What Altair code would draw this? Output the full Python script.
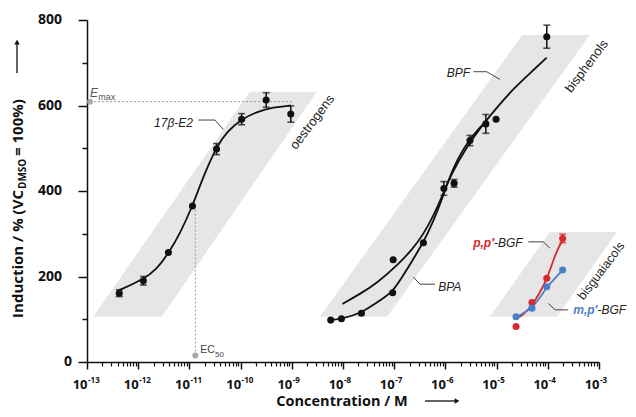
import altair as alt
import pandas as pd

# ---------------- data (x = log10 of concentration / M) ----------------
E2_LOGC = [-12.37, -11.90, -11.41, -10.94, -10.47, -9.98, -9.50, -9.02]
E2_VAL = [161, 190, 256, 365, 498, 568, 613, 580]
E2_ERR = [8, 10, 0, 0, 13, 13, 17, 19]

BPA_LOGC = [-8.24, -8.03, -7.64, -7.03, -6.43, -5.83, -5.21]
BPA_VAL = [98, 101, 114, 162, 279, 418, 557]
BPA_ERR = [0, 0, 0, 0, 0, 9, 22]

BPF_LOGC = [-7.02, -6.03, -5.52, -5.01, -4.02]
BPF_VAL = [239, 406, 518, 568, 761]
BPF_ERR = [0, 16, 12, 0, 27]

BGF_LOGC = [-4.62, -4.31, -4.02, -3.71]
PPBGF_VAL = [83, 139, 196, 289]
PPBGF_ERR = [0, 0, 0, 10]
MPBGF_VAL = [106, 126, 176, 215]
MPBGF_ERR = [0, 0, 0, 0]

# fitted curves
E2_FIT_LOGC = [-12.37, -11.90, -11.64, -11.41, -11.18, -10.94, -10.79, -10.63, -10.47, -10.27, -9.98, -9.69, -9.36, -9.02]
E2_FIT_VAL = [168, 193, 217, 254, 301, 365, 414, 461, 502, 539, 568, 585, 596, 600]
BPA_FIT_LOGC = [-8.24, -8.03, -7.64, -7.28, -7.03, -6.76, -6.43, -6.24, -6.07, -5.94, -5.78, -5.52, -5.19]
BPA_FIT_VAL = [98, 101, 114, 145, 162, 215, 279, 328, 379, 426, 472, 524, 566]
BPF_FIT_LOGC = [-8.01, -7.67, -7.34, -6.89, -6.63, -6.43, -6.24, -6.04, -5.88, -5.58, -5.32, -5.06, -4.67, -4.28, -4.02]
BPF_FIT_VAL = [136, 159, 184, 232, 266, 299, 340, 395, 441, 504, 547, 586, 640, 683, 712]
PPBGF_FIT_LOGC = [-4.62, -4.48, -4.30, -4.15, -4.02, -3.89, -3.80, -3.71]
PPBGF_FIT_VAL = [101, 110, 133, 164, 193, 239, 266, 285]
MPBGF_FIT_LOGC = [-4.62, -4.48, -4.31, -4.15, -4.02, -3.86, -3.71]
MPBGF_FIT_VAL = [104, 114, 126, 151, 175, 196, 215]

SERIES = ["17β-E2", "BPA", "BPF", "p,p′-BGF", "m,p′-BGF"]
SERIES_COLORS = ["#111111", "#111111", "#111111", "#d62a2e", "#4a80c8"]

# substance-class bands (parallelograms)
BAND_NAMES = ["oestrogens", "bisphenols", "bisguaiacols"]
BAND_BOTTOM = [106, 106, 106]
BAND_TOP = [632, 765, 304]
BAND_BOTTOM_LO = [-12.88, -8.45, -5.13]
BAND_BOTTOM_HI = [-11.54, -7.14, -3.82]
BAND_TOP_LO = [-9.82, -4.50, -3.96]
BAND_TOP_HI = [-8.51, -3.18, -2.65]
BAND_LABEL_X = [-8.60, -3.24, -2.96]
BAND_LABEL_Y = [561, 692, 213]
BAND_LABEL_SIZE = [13, 13, 12.5]

# Emax / EC50 annotations
EMAX_LOGC, EMAX_VAL, EMAX_LINE_END = -12.94, 609, -8.98
EC50_LOGC, EC50_VAL, EC50_LINE_TOP = -10.885, 15, 363

X_TICKS = [-13, -12, -11, -10, -9, -8, -7, -6, -5, -4, -3]
X_TICK_EXP = ["-13", "-12", "-11", "-10", "-9", "-8", "-7", "-6", "-5", "-4", "-3"]
X_MINOR = [d + m for d in range(-13, -3) for m in (0.30103, 0.47712, 0.60206, 0.69897, 0.77815, 0.84510, 0.90309, 0.95424)]
Y_TICKS = [0, 200, 400, 600, 800]
Y_MINOR = [100, 300, 500, 700]

# ---------------- tables ----------------
def series_df(name, xs, ys, errs=None):
    d = pd.DataFrame({"s": name, "x": xs, "y": ys})
    if errs is not None:
        d["e"] = errs
    return d

pts = pd.concat([
    series_df(SERIES[0], E2_LOGC, E2_VAL, E2_ERR),
    series_df(SERIES[1], BPA_LOGC, BPA_VAL, BPA_ERR),
    series_df(SERIES[2], BPF_LOGC, BPF_VAL, BPF_ERR),
    series_df(SERIES[3], BGF_LOGC, PPBGF_VAL, PPBGF_ERR),
    series_df(SERIES[4], BGF_LOGC, MPBGF_VAL, MPBGF_ERR),
], ignore_index=True)
errs = pts[pts["e"] > 0].copy()
errs["lo"] = errs["y"] - errs["e"]
errs["hi"] = errs["y"] + errs["e"]

fits = pd.concat([
    series_df(SERIES[0], E2_FIT_LOGC, E2_FIT_VAL),
    series_df(SERIES[1], BPA_FIT_LOGC, BPA_FIT_VAL),
    series_df(SERIES[2], BPF_FIT_LOGC, BPF_FIT_VAL),
    series_df(SERIES[3], PPBGF_FIT_LOGC, PPBGF_FIT_VAL),
    series_df(SERIES[4], MPBGF_FIT_LOGC, MPBGF_FIT_VAL),
], ignore_index=True)

band_rows = []
for i, g in enumerate(BAND_NAMES):
    band_rows.append({"g": g, "y": BAND_BOTTOM[i], "lo": BAND_BOTTOM_LO[i], "hi": BAND_BOTTOM_HI[i]})
    band_rows.append({"g": g, "y": BAND_TOP[i], "lo": BAND_TOP_LO[i], "hi": BAND_TOP_HI[i]})
bands_df = pd.DataFrame(band_rows)

LEADERS = {
    "e2": [(-10.826, 566), (-10.50, 566), (-10.338, 544)],
    "bpf": [(-5.455, 679), (-5.193, 679), (-4.934, 661)],
    "bpa": [(-6.627, 199), (-6.496, 182), (-6.203, 182)],
    "pp": [(-4.381, 281), (-4.088, 281), (-3.957, 266)],
    "mp": [(-3.99, 137), (-3.859, 122), (-3.60, 122)],
}
lead_df = pd.DataFrame([{"id": k, "k": j, "x": p[0], "y": p[1]} for k, v in LEADERS.items() for j, p in enumerate(v)])

# y-title arrow: spans this range of the y scale (axis units)
Y_ARROW_FROM, Y_ARROW_TO = 676, 748

XS = alt.Scale(domain=[-13, -3], nice=False, zero=False)
YS = alt.Scale(domain=[0, 800], nice=False, zero=False)
CS = alt.Scale(domain=SERIES, range=SERIES_COLORS)


def X(f):
    return alt.X(f, type="quantitative", scale=XS, axis=None)


def Y(f):
    return alt.Y(f, type="quantitative", scale=YS, axis=None)


one = pd.DataFrame({"a": [0]})
AX_FONT = "Open Sans"
LB_FONT = "Liberation Sans"

layers = []
# bands
layers.append(alt.Chart(bands_df).mark_area(orient="horizontal", color="#e6e6e6").encode(
    y=Y("y"), x=X("lo"), x2=alt.X2("hi"), detail="g:N"))
# Emax / EC50 dotted guides
layers.append(alt.Chart(pd.DataFrame({"x0": [EMAX_LOGC], "x1": [EMAX_LINE_END], "y": [EMAX_VAL]}))
              .mark_rule(color="#9a9a9a", strokeDash=[2, 2], strokeWidth=1)
              .encode(x=X("x0"), x2=alt.X2("x1"), y=Y("y")))
layers.append(alt.Chart(pd.DataFrame({"x": [EC50_LOGC], "y0": [EC50_VAL], "y1": [EC50_LINE_TOP]}))
              .mark_rule(color="#9a9a9a", strokeDash=[2, 2], strokeWidth=1)
              .encode(x=X("x"), y=Y("y0"), y2=alt.Y2("y1")))
layers.append(alt.Chart(pd.DataFrame({"x": [EMAX_LOGC, EC50_LOGC], "y": [EMAX_VAL, EC50_VAL]}))
              .mark_circle(color="#aaaaaa", size=36, opacity=1)
              .encode(x=X("x"), y=Y("y")))
# leader lines
layers.append(alt.Chart(lead_df).mark_line(color="#444444", strokeWidth=1).encode(
    x=X("x"), y=Y("y"), detail="id:N", order="k:Q"))
# fitted curves
layers.append(alt.Chart(fits).mark_line(interpolate="basis", strokeWidth=1.8).encode(
    x=X("x"), y=Y("y"), color=alt.Color("s:N", scale=CS, legend=None), detail="s:N"))
# error bars
layers.append(alt.Chart(errs).mark_rule(strokeWidth=1.5).encode(
    x=X("x"), y=Y("lo"), y2=alt.Y2("hi"), color=alt.Color("s:N", scale=CS, legend=None)))
for col in ("lo", "hi"):
    layers.append(alt.Chart(errs).mark_tick(orient="horizontal", size=7, thickness=1.6).encode(
        x=X("x"), y=Y(col), color=alt.Color("s:N", scale=CS, legend=None)))
# points
layers.append(alt.Chart(pts).mark_circle(size=50, opacity=1).encode(
    x=X("x"), y=Y("y"), color=alt.Color("s:N", scale=CS, legend=None)))

# in-plot labels
def tlayer(df, **kw):
    return alt.Chart(df).mark_text(**kw).encode(x=X("x"), y=Y("y"), text="t:N")

layers.append(tlayer(pd.DataFrame({"t": ["17β-E2", "BPF"], "x": [-10.93, -5.52], "y": [560, 675]}),
                     font=LB_FONT, fontSize=12, fontStyle="italic", color="#222", align="right", baseline="middle"))
layers.append(tlayer(pd.DataFrame({"t": ["BPA", "-BGF", "-BGF"], "x": [-6.14, -5.05, -3.03], "y": [176, 278, 122]}),
                     font=LB_FONT, fontSize=12, fontStyle="italic", color="#222", align="left", baseline="middle"))
layers.append(tlayer(pd.DataFrame({"t": ["p,p′"], "x": [-5.05], "y": [278]}),
                     font=LB_FONT, fontSize=12, fontStyle="italic", fontWeight="bold", color=SERIES_COLORS[3],
                     align="right", baseline="middle"))
layers.append(tlayer(pd.DataFrame({"t": ["m,p′"], "x": [-3.03], "y": [122]}),
                     font=LB_FONT, fontSize=12, fontStyle="italic", fontWeight="bold", color=SERIES_COLORS[4],
                     align="right", baseline="middle"))
for i in range(len(BAND_NAMES)):
    layers.append(tlayer(pd.DataFrame({"t": [BAND_NAMES[i]], "x": [BAND_LABEL_X[i]], "y": [BAND_LABEL_Y[i]]}),
                         font=LB_FONT, fontSize=BAND_LABEL_SIZE[i], color="#222", angle=307,
                         align="center", baseline="middle"))
layers.append(tlayer(pd.DataFrame({"t": ["E"], "x": [-12.94], "y": [620]}),
                     font=LB_FONT, fontSize=12, fontStyle="italic", color="#555", align="left", baseline="alphabetic"))
layers.append(tlayer(pd.DataFrame({"t": ["max"], "x": [-12.78], "y": [614]}),
                     font=LB_FONT, fontSize=9, color="#555", align="left", baseline="alphabetic"))
layers.append(tlayer(pd.DataFrame({"t": ["EC"], "x": [-10.79], "y": [21]}),
                     font=LB_FONT, fontSize=10.5, color="#444", align="left", baseline="alphabetic"))
layers.append(tlayer(pd.DataFrame({"t": ["50"], "x": [-10.50], "y": [12]}),
                     font=LB_FONT, fontSize=8, color="#444", align="left", baseline="alphabetic"))

# axes (ticks only; labels as text)
layers.append(alt.Chart(pd.DataFrame({"v": X_TICKS})).mark_point(opacity=0).encode(
    x=alt.X("v:Q", scale=XS, axis=alt.Axis(values=X_TICKS, labels=False, title=None, grid=False, orient="bottom",
                                          tickSize=7, tickWidth=1.5, tickColor="#111", domainColor="#111",
                                          domainWidth=1.5))))
layers.append(alt.Chart(pd.DataFrame({"v": X_MINOR})).mark_point(opacity=0).encode(
    x=alt.X("v:Q", scale=XS, axis=alt.Axis(values=X_MINOR, labels=False, title=None, grid=False, orient="bottom",
                                          tickSize=4, tickWidth=1.2, tickColor="#111", domain=False))))
layers.append(alt.Chart(pd.DataFrame({"v": Y_TICKS})).mark_point(opacity=0).encode(
    y=alt.Y("v:Q", scale=YS, axis=alt.Axis(values=Y_TICKS, labels=False, title=None, grid=False, orient="left",
                                          tickSize=9, tickWidth=1.5, tickColor="#111", domainColor="#111",
                                          domainWidth=1.5))))
layers.append(alt.Chart(pd.DataFrame({"v": Y_MINOR})).mark_point(opacity=0).encode(
    y=alt.Y("v:Q", scale=YS, axis=alt.Axis(values=Y_MINOR, labels=False, title=None, grid=False, orient="left",
                                          tickSize=5, tickWidth=1.5, tickColor="#111", domain=False))))

# tick labels
xl = pd.DataFrame({"v": X_TICKS, "t": ["10"] * len(X_TICKS), "e": X_TICK_EXP})
layers.append(alt.Chart(xl).mark_text(font=AX_FONT, fontSize=13, fontWeight="bold", color="#111",
                                      align="right", baseline="alphabetic", dx=0.5)
              .encode(x=alt.X("v:Q", scale=XS, axis=None), y=alt.value(369), text="t:N"))
layers.append(alt.Chart(xl).mark_text(font=AX_FONT, fontSize=8, fontWeight="bold", color="#111",
                                      align="left", baseline="alphabetic", dx=1)
              .encode(x=alt.X("v:Q", scale=XS, axis=None), y=alt.value(363), text="e:N"))
yl = pd.DataFrame({"v": Y_TICKS[1:], "t": [str(v) for v in Y_TICKS[1:]]})
layers.append(alt.Chart(yl).mark_text(font=AX_FONT, fontSize=14, fontWeight="bold", color="#111",
                                      align="right", baseline="middle")
              .encode(x=alt.value(-25), y=alt.Y("v:Q", scale=YS, axis=None), text="t:N"))
layers.append(alt.Chart(pd.DataFrame({"v": [Y_TICKS[0]], "t": [str(Y_TICKS[0])]})).mark_text(
    font=AX_FONT, fontSize=14, fontWeight="bold", color="#111", align="right", baseline="middle")
              .encode(x=alt.value(-15), y=alt.Y("v:Q", scale=YS, axis=None), text="t:N"))

# axis titles (pixel-placed text) + arrows
layers.append(alt.Chart(one).mark_text(text="Concentration / M", font=AX_FONT, fontSize=14.5, fontWeight="bold",
                                       color="#111", align="center", baseline="alphabetic")
              .encode(x=alt.value(255), y=alt.value(386)))
layers.append(alt.Chart(one).mark_rule(color="#111", strokeWidth=1.3)
              .encode(x=alt.value(338), x2=alt.value(368), y=alt.value(381)))
layers.append(alt.Chart(one).mark_point(shape="triangle-right", filled=True, color="#111", size=30, opacity=1)
              .encode(x=alt.value(370), y=alt.value(381)))

layers.append(alt.Chart(one).mark_text(text="Induction / % (VC", font=AX_FONT, fontSize=15, fontWeight="bold",
                                       color="#111", align="right", baseline="alphabetic", angle=270)
              .encode(x=alt.value(-64), y=alt.value(170)))
layers.append(alt.Chart(one).mark_text(text="DMSO", font=AX_FONT, fontSize=10, fontWeight="bold",
                                       color="#111", align="left", baseline="alphabetic", angle=270)
              .encode(x=alt.value(-61), y=alt.value(169)))
layers.append(alt.Chart(one).mark_text(text="= 100%)", font=AX_FONT, fontSize=15, fontWeight="bold",
                                       color="#111", align="left", baseline="alphabetic", angle=270)
              .encode(x=alt.value(-64), y=alt.value(136)))
layers.append(alt.Chart(pd.DataFrame({"y0": [Y_ARROW_FROM], "y1": [Y_ARROW_TO - 4]}))
              .mark_rule(color="#111", strokeWidth=1.3)
              .encode(x=alt.value(-70), y=Y("y0"), y2=alt.Y2("y1")))
layers.append(alt.Chart(pd.DataFrame({"y": [Y_ARROW_TO]}))
              .mark_point(shape="triangle-up", filled=True, color="#111", size=30, opacity=1)
              .encode(x=alt.value(-70), y=Y("y")))

chart = (alt.layer(*layers)
         .properties(width=512, height=342, autosize="none",
                     padding={"left": 79, "top": 12, "right": 29, "bottom": 47})
         .resolve_axis(x="independent", y="independent")
         .configure_view(stroke=None))

chart.save("out.html", embed_options={"renderer": "svg", "actions": False})
